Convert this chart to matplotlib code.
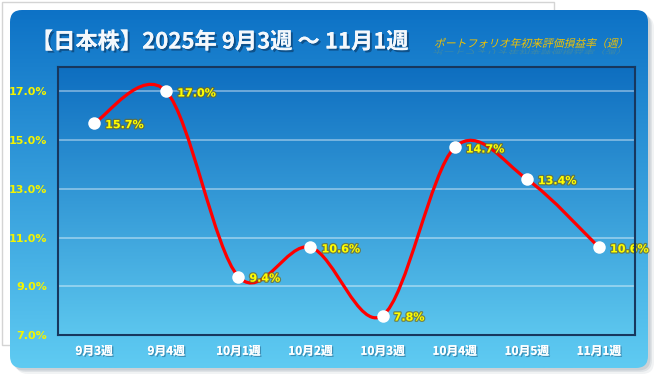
import numpy as np
import matplotlib
matplotlib.use("Agg")
import matplotlib.pyplot as plt
import matplotlib.patheffects as pe
from matplotlib.patches import FancyBboxPatch, Rectangle, PathPatch
from matplotlib.path import Path
from matplotlib.textpath import TextPath
from matplotlib.font_manager import FontProperties
from matplotlib.transforms import Affine2D

plt.rcParams['font.family'] = ['Noto Sans CJK JP', 'DejaVu Sans']

# data
weeks = ['9月3週', '9月4週', '10月1週', '10月2週', '10月3週', '10月4週', '10月5週', '11月1週']
returns = [15.7, 17.0, 9.4, 10.6, 7.8, 14.7, 13.4, 10.6]
yticks = [7, 9, 11, 13, 15, 17]
title = '【日本株】2025年 9月3週 ～ 11月1週'
subtitle = 'ポートフォリオ年初来評価損益率（週）'

W, H = 665, 384
fig = plt.figure(figsize=(W / 100, H / 100), dpi=100)
fig.patch.set_facecolor('white')

# background layer in pixel coordinates
bg = fig.add_axes([0, 0, 1, 1])
bg.set_xlim(0, W)
bg.set_ylim(H, 0)
bg.axis('off')

bg.add_patch(Rectangle((1.5, 1.5), 552, 343, facecolor='white', edgecolor='#d4d4d4', lw=1))

# panel shadow
for off, a in [(6, 0.10), (4, 0.15), (2.5, 0.2)]:
    bg.add_patch(FancyBboxPatch((10 + off, 10 + off), 638, 358,
                                boxstyle='round,pad=0,rounding_size=12',
                                facecolor='#7a8a9a', edgecolor='none', alpha=a))

panel = FancyBboxPatch((10, 10), 638, 358, boxstyle='round,pad=0,rounding_size=12',
                       facecolor='none', edgecolor='none')
bg.add_patch(panel)
grad = np.linspace(0, 1, 256).reshape(-1, 1)
top_c = np.array([0x0d, 0x72, 0xc6]) / 255
bot_c = np.array([0x5f, 0xcb, 0xf2]) / 255
img = top_c + (bot_c - top_c) * grad[..., None]
im = bg.imshow(img, extent=(10, 648, 368, 10), aspect='auto', zorder=1)
im.set_clip_path(panel)

# title
bg.text(31, 42, title, color='#f4f8fc', fontsize=16, fontweight='bold',
        va='center', ha='left', zorder=5,
        path_effects=[pe.withSimplePatchShadow(offset=(1.5, -1.5), shadow_rgbFace='#0a3560', alpha=0.6),
                      pe.Normal()])

# italic subtitle with faint reflection
fp = FontProperties(family='Noto Sans CJK JP')
tp = TextPath((0, 0), subtitle, size=10.8, prop=fp)
tr = Affine2D().skew_deg(14, 0).scale(1, -1).translate(434, 47) + bg.transData
bg.add_patch(PathPatch(tp, facecolor='#f2c200', edgecolor='none', transform=tr, zorder=5))
tr2 = Affine2D().skew_deg(-14, 0).scale(1, 0.6).translate(434, 49) + bg.transData
bg.add_patch(PathPatch(tp, facecolor='#f2c200', edgecolor='none', alpha=0.18, transform=tr2, zorder=5))

# plot area
ax = fig.add_axes([58 / W, 1 - 335 / H, 577 / W, 268 / H])
ax.set_facecolor('none')
ptop = np.array([0x0e, 0x6e, 0xc0]) / 255
pbot = np.array([0x5c, 0xc6, 0xee]) / 255
pimg = ptop + (pbot - ptop) * grad[..., None]
ax.imshow(pimg, extent=(0, 1, 0, 1), transform=ax.transAxes, aspect='auto', zorder=0)

x = np.arange(len(weeks))
ax.set_xlim(-0.5, len(weeks) - 0.5)
ax.set_ylim(7, 18)

for yv in yticks[1:]:
    ax.axhline(yv, color='white', alpha=0.45, lw=1.2, zorder=1)
ax.axhline(7.02, color='#dff2fb', lw=1.5, zorder=1)

# smooth line (Excel-like bezier)
pts = np.column_stack([x, returns])
verts = [pts[0]]
codes = [Path.MOVETO]
n = len(pts)
for i in range(n - 1):
    p0 = pts[max(i - 1, 0)]
    p1 = pts[i]
    p2 = pts[i + 1]
    p3 = pts[min(i + 2, n - 1)]
    c1 = p1 + (p2 - p0) / 6
    c2 = p2 - (p3 - p1) / 6
    verts += [c1, c2, p2]
    codes += [Path.CURVE4] * 3
ax.add_patch(PathPatch(Path(verts, codes), facecolor='none', edgecolor='#ff0000',
                       lw=2.3, zorder=3, capstyle='round'))
ax.plot(x, returns, 'o', color='white', markersize=9, markeredgewidth=0, zorder=4)

for xi, v in zip(x, returns):
    ax.annotate(f'{v:.1f}%', (xi, v), xytext=(8, -1.5), textcoords='offset points',
                ha='left', va='center', fontsize=8, fontweight='bold', color='#ffff00',
                family='DejaVu Sans', zorder=5,
                path_effects=[pe.withStroke(linewidth=1.8, foreground=(0.45, 0.42, 0.1, 0.7))])

ax.set_xticks(x)
ax.set_xticklabels(weeks, color='white', fontsize=8.5, fontweight='bold')
for t in ax.get_xticklabels():
    t.set_path_effects([pe.withSimplePatchShadow(offset=(1, -1), shadow_rgbFace='#2a6a90', alpha=0.6),
                        pe.Normal()])
ax.set_yticks(yticks)
ax.set_yticklabels([f'{v:.1f}%' for v in yticks], color='#f4f400', fontsize=8,
                   fontweight='bold', family='DejaVu Sans')
ax.tick_params(length=0)
ax.tick_params(axis='y', pad=8)
ax.tick_params(axis='x', pad=7)
for s in ax.spines.values():
    s.set_color('#17375e')
    s.set_linewidth(1.5)
    s.set_zorder(6)

fig.savefig('out.png', dpi=100)
